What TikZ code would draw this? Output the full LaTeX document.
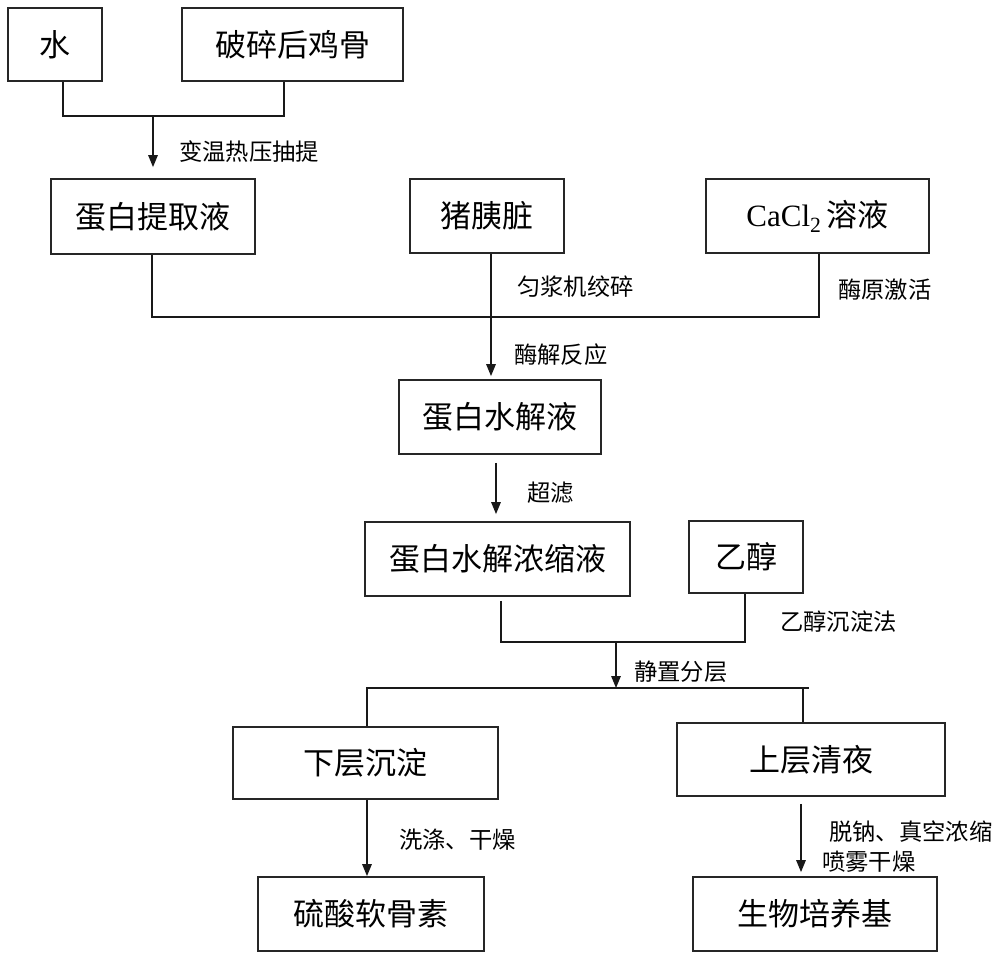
\documentclass[tikz,border=0pt]{standalone}
\usepackage{fontspec}
\setmainfont{Liberation Serif}
\newfontfamily\cjk{Noto Sans CJK SC}
\usetikzlibrary{arrows.meta}
\begin{document}
\begin{tikzpicture}[x=1pt,y=-1pt,
  box/.style={draw=black!85,line width=1.8pt,inner sep=0pt,font=\cjk\fontsize{31}{31}\selectfont},
  lab/.style={anchor=west,inner sep=0pt,font=\cjk\fontsize{23.3}{23.3}\selectfont},
  conn/.style={draw=black!90,line width=1.4pt},
  arr/.style={conn,-{Triangle[length=12pt,width=9.5pt]}}]
\useasboundingbox[fill=white] (0,0) rectangle (1000,958);
% boxes
\node[box,minimum width=94pt,minimum height=73pt] (shui) at (55,44.5) {水};
\node[box,minimum width=221pt,minimum height=73pt] (gu) at (292.5,44.5) {破碎后鸡骨};
\node[box,minimum width=204pt,minimum height=75pt] (tiqu) at (153,216.5) {蛋白提取液};
\node[box,minimum width=154pt,minimum height=74pt] (yi) at (487,216) {猪胰脏};
\node[box,minimum width=223pt,minimum height=74pt] (cacl) at (817.5,216) {{\fontsize{31}{31}\selectfont\rmfamily CaCl\textsubscript{2}}\,溶液};
\node[box,minimum width=202pt,minimum height=74pt] (shuijie) at (500,417) {蛋白水解液};
\node[box,minimum width=265pt,minimum height=74pt] (nongsuo) at (497.5,559) {蛋白水解浓缩液};
\node[box,minimum width=114pt,minimum height=72pt] (yichun) at (746,557) {乙醇};
\node[box,minimum width=265pt,minimum height=72pt] (xia) at (365.5,763) {下层沉淀};
\node[box,minimum width=268pt,minimum height=73pt] (shang) at (811,759.5) {上层清夜};
\node[box,minimum width=226pt,minimum height=74pt] (liusuan) at (371,914) {硫酸软骨素};
\node[box,minimum width=244pt,minimum height=74pt] (shengwu) at (815,914) {生物培养基};
% junction coordinates
\coordinate (j1) at (153,116);
\coordinate (j2) at (491,317);
\coordinate (j3) at (616,642);
\coordinate (j4) at (616,688);
\coordinate (j4e) at (809,688);
% connectors
\draw[conn] ([xshift=8pt]shui.south) |- (j1) -| ([xshift=-8.5pt]gu.south);
\draw[arr,shorten >=11pt] (j1) -- (tiqu.north);
\draw[conn] ([xshift=-1pt]tiqu.south) |- (j2) -| ([xshift=1.5pt]cacl.south);
\draw[arr,shorten >=3pt] ([xshift=4pt]yi.south) -- (j2) -- (shuijie.north -| j2);
\draw[arr,shorten <=8pt,shorten >=7pt] ([xshift=-4pt]shuijie.south) -- ([xshift=-1.5pt]nongsuo.north);
\draw[conn,shorten <=4pt] ([xshift=3.5pt]nongsuo.south) |- (j3) -| ([xshift=-1pt]yichun.south);
\draw[arr] (j3) -- (j4);
\draw[conn] ([xshift=1.5pt]xia.north) |- (j4e);
\draw[conn] ([xshift=-8pt]shang.north) -- ([xshift=-8pt]shang.north |- j4e);
\draw[arr] ([xshift=1.5pt]xia.south) -- ([xshift=-4pt]liusuan.north);
\draw[arr,shorten <=7pt,shorten >=4pt] ([xshift=-10pt]shang.south) -- ([xshift=-14pt]shengwu.north);
% labels
\node[lab] (l1) at (179,152) {变温热压抽提};
\node[lab] (l2) at (517,287) {匀浆机绞碎};
\node[lab] (l3) at (838,290) {酶原激活};
\node[lab] (l4) at (514,355) {酶解反应};
\node[lab] (l5) at (527,493) {超滤};
\node[lab] (l6) at (780,622) {乙醇沉淀法};
\node[lab] (l7) at (634,672) {静置分层};
\node[lab] (l8) at (399,840) {洗涤、干燥};
\node[lab] (l9) at (829,832) {脱钠、真空浓缩};
\node[lab] (l10) at (822,862) {喷雾干燥};
\end{tikzpicture}
\end{document}
